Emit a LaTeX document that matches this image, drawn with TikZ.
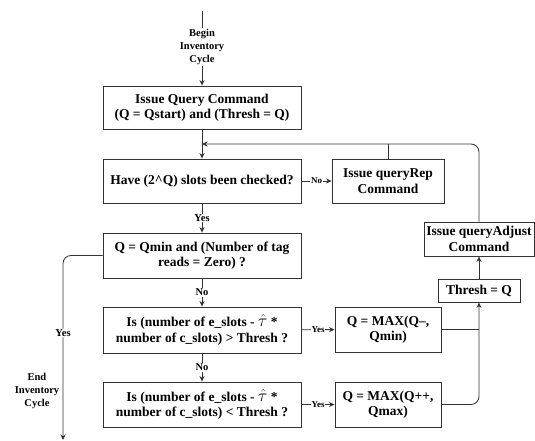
\documentclass[tikz,border=0pt]{standalone}
\usepackage{fontspec}
\setmainfont{Liberation Serif}
\usetikzlibrary{arrows.meta}
\newcommand{\tauhat}{{\fontsize{17}{15.4}\selectfont$\hat{\tau}$}}
\tikzset{
	stepbox/.style={draw=black!80, line width=0.85pt, fill=white, align=center, inner sep=1pt, font=\fontsize{13.5}{15.4}\selectfont\bfseries},
	lbl/.style={fill=white, inner sep=1pt, align=center, font=\fontsize{10.5}{13}\selectfont\bfseries},
	tinylbl/.style={fill=white, inner sep=0.6pt, font=\fontsize{9}{10}\selectfont\bfseries},
	flow/.style={draw=black!80, line width=0.85pt},
	arr/.style={flow, -{Stealth[length=5.5pt,width=5pt]}}
}

\begin{document}
\begin{tikzpicture}[x=1pt, y=-1pt]
		%%%%% START %%%%%
		\useasboundingbox (0,0) rectangle (535,441);
		
		\coordinate (start) at (202, 11);
		\node[lbl] (begin) at (202, 47) {Begin\\Inventory\\Cycle};
		\node[stepbox, minimum width=198pt, minimum height=43pt] (query) at (202, 107.5) {Issue Query Command\\(Q = Qstart) and (Thresh = Q)};
		\coordinate (join) at (202, 144);
		\node[stepbox, minimum width=198pt, minimum height=44pt] (have) at (202, 181) {Have (2\textasciicircum Q) slots been checked?};
		\node[stepbox, minimum width=112pt, minimum height=44pt] (rep) at (388, 181) {Issue queryRep\\Command};
		
		\node[stepbox, minimum width=198pt, minimum height=45pt] (zero) at (202, 255.5) {Q = Qmin and (Number of tag\\reads = Zero) ?};
		\node[stepbox, minimum width=198pt, minimum height=46pt] (more) at (202, 330) {Is (number of e\_slots - \tauhat\ *\\number of c\_slots) > Thresh ?};
		\node[stepbox, minimum width=198pt, minimum height=45pt] (less) at (202, 404.5) {Is (number of e\_slots - \tauhat\ *\\number of c\_slots) < Thresh ?};
		
		\node[stepbox, minimum width=106pt, minimum height=45pt] (maxdn) at (388, 329.5) {Q = MAX(Q--,\\Qmin)};
		\node[stepbox, minimum width=106pt, minimum height=45pt] (maxup) at (388, 404.5) {Q = MAX(Q++,\\Qmax)};
		\node[stepbox, minimum width=82pt, minimum height=23pt] (thresh) at (479, 290.5) {Thresh = Q};
		\node[stepbox, minimum width=110pt, minimum height=34pt] (adjust) at (479, 239) {Issue queryAdjust\\Command};
		
		\coordinate (stop) at (63, 440);
		\node[lbl] (endcycle) at (37, 391) {End\\Inventory\\Cycle};
		
		% main column
		\draw[flow] (start) -- (begin);
		\draw[arr] (begin) -- (query);
		\draw[arr] (query) -- (have);
		\draw[arr] (have) -- node[lbl] {Yes} (zero);
		\draw[arr] (zero) -- node[lbl] {No} (more);
		\draw[arr] (more) -- node[lbl] {No} (less);
		\draw[arr, rounded corners=8pt] (zero.west) -| node[lbl, pos=0.71] {Yes} (stop);
		
		% right side
		\draw[arr] (have) -- node[tinylbl] {No} (rep);
		\draw[arr] (more) -- node[tinylbl] {Yes} (maxdn);
		\draw[arr] (less) -- node[tinylbl] {Yes} (maxup);
		\draw[flow] (maxdn.east) -- (maxdn.east -| thresh);
		\draw[arr, rounded corners=8pt] (maxup.east) -| (thresh);
		\draw[arr] (thresh) -- (adjust);
		\draw[arr, rounded corners=8pt] (adjust) |- (join);
		\draw[flow] (rep) -- (rep |- join);
		
		%%%%% END %%%%%
	\end{tikzpicture}
\end{document}
